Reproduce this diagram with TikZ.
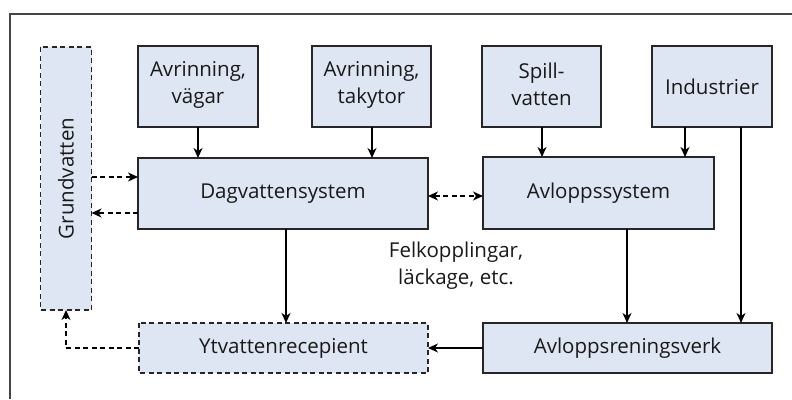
\documentclass[tikz,border=0pt]{standalone}
\usepackage{fontspec}
\setmainfont{Open Sans}
\usetikzlibrary{arrows.meta}
\definecolor{boxfill}{HTML}{DFE6F3}
\definecolor{frameline}{HTML}{454545}
\begin{document}
\begin{tikzpicture}[x=1pt,y=-1pt,
  box/.style={draw=black!85,fill=boxfill,line width=1.2pt},
  dbox/.style={box,dash pattern=on 5pt off 3.5pt},
  lbl/.style={font=\fontsize{20.5}{27}\selectfont,align=center,inner sep=0pt,text=black!90},
  arr/.style={line width=1.2pt,-{Stealth[length=10pt,width=9pt,inset=3pt]}},
  darr/.style={arr,dash pattern=on 5pt off 3.5pt},
  ddarr/.style={line width=1.2pt,dash pattern=on 5pt off 3.5pt,{Stealth[length=10pt,width=9pt,inset=3pt]}-{Stealth[length=10pt,width=9pt,inset=3pt]}}]
\useasboundingbox (0,0) rectangle (792,399);
% frame
\draw[frameline,line width=2pt] (9.5,399) -- (9.5,13.5) -- (792,13.5);
% boxes
\draw[dbox] (40.5,47) rectangle (91.5,310);
\node[lbl,rotate=90] (grund) at (66,178.5) {Grundvatten};
\draw[box] (138,46) rectangle (258,127);
\node[lbl] (vagar) at (198,84.5) {Avrinning,\\vägar};
\draw[box] (312,46) rectangle (431,127);
\node[lbl] (tak) at (371.5,84.5) {Avrinning,\\takytor};
\draw[box] (482,46) rectangle (601,127);
\node[lbl] (spill) at (541.5,84.5) {Spill-\\vatten};
\draw[box] (652,46) rectangle (772,127);
\node[lbl] (ind) at (712,86.5) {Industrier};
\draw[box] (138,158) rectangle (428,229);
\node[lbl] (dag) at (283,193.5) {Dagvattensystem};
\draw[box] (483,157) rectangle (714,229);
\node[lbl] (avl) at (598.5,193) {Avloppssystem};
\draw[dbox] (139,323) rectangle (428,373);
\node[lbl] (yt) at (283.5,348) {Ytvattenrecepient};
\draw[box] (483,323) rectangle (772,373);
\node[lbl] (ren) at (627.5,348) {Avloppsreningsverk};
\node[lbl] (fel) at (456,266) {Felkopplingar,\\läckage, etc.};
% connection coordinates
\coordinate (vagarB) at (198,127);
\coordinate (dagT1) at (198,158);
\coordinate (takB) at (372,127);
\coordinate (dagT2) at (372,158);
\coordinate (spillB) at (542,127);
\coordinate (avlT1) at (542,157);
\coordinate (indB1) at (685,127);
\coordinate (avlT2) at (685,157);
\coordinate (indB2) at (741,127);
\coordinate (renT2) at (741,323);
\coordinate (avlB) at (627,229);
\coordinate (renT1) at (627,323);
\coordinate (dagB) at (286,229);
\coordinate (ytT) at (286,323);
\coordinate (renL) at (483,348);
\coordinate (ytR) at (428,348);
\coordinate (ytL) at (139,348);
\coordinate (grundB) at (66,310);
\coordinate (grundR1) at (91.5,177);
\coordinate (grundR2) at (91.5,213);
\coordinate (dagL1) at (138,177);
\coordinate (dagL2) at (138,213);
\coordinate (dagR) at (428,196);
\coordinate (avlL) at (483,196);
% arrows
\draw[arr] (vagarB) -- (dagT1);
\draw[arr] (takB) -- (dagT2);
\draw[arr] (spillB) -- (avlT1);
\draw[arr] (indB1) -- (avlT2);
\draw[arr] (indB2) -- (renT2);
\draw[arr] (avlB) -- (renT1);
\draw[arr] (dagB) -- (ytT);
\draw[arr] (renL) -- (ytR);
\draw[darr] (ytL) -| (grundB);
\draw[darr] (grundR1) -- (dagL1);
\draw[darr] (dagL2) -- (grundR2);
\draw[ddarr] (dagR) -- (avlL);
\end{tikzpicture}
\end{document}
